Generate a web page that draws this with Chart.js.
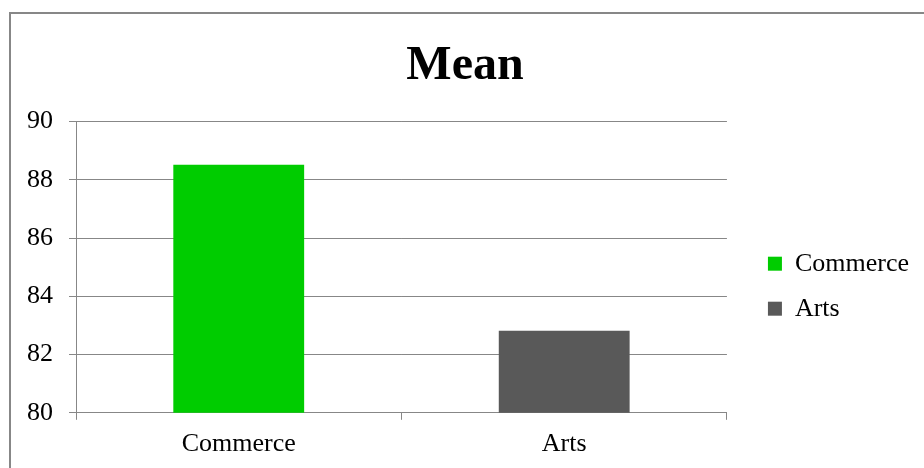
<!DOCTYPE html>
<html>
<head>
<meta charset="utf-8">
<script src="https://cdn.jsdelivr.net/npm/chart.js@4/dist/chart.umd.min.js"></script>
<style>
  html, body { margin: 0; padding: 0; background: #fff; }
  #wrap { width: 924px; height: 468px; position: relative; }
</style>
</head>
<body>
<div id="wrap"><canvas id="meanChart" width="924" height="468"></canvas></div>
<script>
// Mean score per stream
const categories = ['Commerce', 'Arts'];
const meanValues = [88.52, 82.82];
const barColors = ['#00cc00', '#595959'];
const yTicks = [80, 82, 84, 86, 88, 90];

const serif = "'Liberation Serif', 'Times New Roman', serif";
const gridGray = '#878787';
const LEGEND_GAP = 22;

// outer frame line (left and top edge of the chart box)
const framePlugin = {
    id: 'frame',
    beforeDraw(chart) {
        const ctx = chart.ctx;
        ctx.save();
        ctx.strokeStyle = gridGray;
        ctx.lineWidth = 2;
        ctx.beginPath();
        ctx.moveTo(10, chart.height + 5);
        ctx.lineTo(10, 13);
        ctx.lineTo(chart.width + 5, 13);
        ctx.stroke();
        ctx.restore();
    }
};

// leave some room between the plot area and the legend
const legendGapPlugin = {
    id: 'legendGap',
    beforeLayout(chart) {
        const legend = chart.legend;
        if (!legend || legend._gapPatched) return;
        const fit = legend.fit;
        const draw = legend.draw;
        legend.fit = function() {
            fit.call(this);
            this.width += LEGEND_GAP;
        };
        legend.draw = function() {
            this.ctx.save();
            this.ctx.translate(LEGEND_GAP, 0);
            draw.call(this);
            this.ctx.restore();
        };
        legend._gapPatched = true;
    }
};

document.addEventListener('DOMContentLoaded', function() {
    const ctx = document.getElementById('meanChart').getContext('2d');
    new Chart(ctx, {
        type: 'bar',
        data: {
            labels: categories,
            datasets: [{
                label: 'Mean',
                data: meanValues,
                backgroundColor: barColors,
                borderWidth: 0,
                categoryPercentage: 1,
                barPercentage: 0.402
            }]
        },
        options: {
            responsive: false,
            animation: false,
            layout: {
                padding: { left: 11, right: 5, top: 38, bottom: 0 }
            },
            plugins: {
                title: {
                    display: true,
                    text: 'Mean',
                    color: '#000',
                    font: { family: serif, size: 48, weight: 'bold', lineHeight: 1.2 },
                    padding: { top: 0, bottom: 26 }
                },
                legend: {
                    display: true,
                    position: 'right',
                    align: 'center',
                    // empty title only used as a spacer to push the items down
                    title: {
                        display: true,
                        text: '',
                        font: { size: 12 },
                        padding: { top: 26, bottom: 26 }
                    },
                    labels: {
                        color: '#000',
                        font: { family: serif, size: 26 },
                        boxWidth: 14,
                        boxHeight: 14,
                        padding: 19,
                        generateLabels: function(chart) {
                            return categories.map((name, i) => ({
                                text: name,
                                fillStyle: barColors[i],
                                strokeStyle: barColors[i],
                                fontColor: '#000',
                                lineWidth: 0,
                                hidden: false,
                                index: i
                            }));
                        }
                    },
                    onClick: null
                },
                tooltip: { enabled: false }
            },
            scales: {
                x: {
                    offset: true,
                    grid: {
                        offset: true,
                        drawOnChartArea: false,
                        drawTicks: true,
                        tickLength: 7,
                        color: gridGray
                    },
                    border: { color: gridGray, width: 1 },
                    ticks: {
                        color: '#000',
                        font: { family: serif, size: 26 },
                        padding: 8.5
                    }
                },
                y: {
                    min: 80,
                    max: 90,
                    afterBuildTicks: function(axis) {
                        axis.ticks = yTicks.map(v => ({ value: v }));
                    },
                    grid: {
                        color: gridGray,
                        drawTicks: true,
                        tickLength: 7
                    },
                    border: { color: gridGray, width: 1 },
                    ticks: {
                        color: '#000',
                        font: { family: serif, size: 26 },
                        padding: 16
                    }
                }
            }
        },
        plugins: [framePlugin, legendGapPlugin]
    });
});
</script>
</body>
</html>
